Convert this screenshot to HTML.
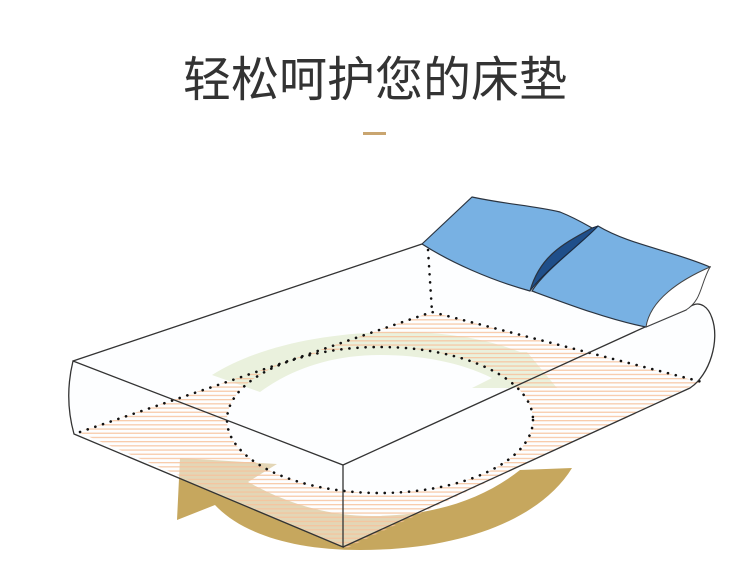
<!DOCTYPE html>
<html><head><meta charset="utf-8"><style>
html,body{margin:0;padding:0;background:#fff;}
.w{position:relative;width:750px;height:575px;overflow:hidden;background:#fff;}
h1{position:absolute;left:0;top:52px;width:750px;margin:0;text-align:center;font:48px "Liberation Sans","Noto Sans CJK SC",sans-serif;color:#333;line-height:58px;}
.bar{position:absolute;left:363px;top:132px;width:23px;height:3px;background:#c9a570;}
svg{position:absolute;left:0;top:0;}
</style></head><body><div class="w">
<h1>轻松呵护您的床垫</h1>
<div class="bar"></div>
<svg width="750" height="575" viewBox="0 0 750 575">
<defs>
<pattern id="hp" width="10" height="4.2" patternUnits="userSpaceOnUse">
<rect x="0" y="0" width="10" height="1.3" fill="#f7c29c"/>
</pattern>
<mask id="m">
<polygon points="78,432 432,312 700,382 347,548" fill="#fff"/>
<ellipse cx="380" cy="420" rx="153" ry="73" fill="#000"/>
</mask>
</defs>
<path d="M572,468 C540,520 460,550 360,550 C290,550 240,532 215,505 L177,520 L180,458 L277,464 L248,482 C290,505 330,516 372,516 C432,516 482,500 520,470 Z" fill="#c6a75e"/>
<path d="M212,375 C260,345 330,332 400,332 C450,332 490,340 520,352 L527,352 L557,388 L472,388 L492,378 C460,362 420,355 380,355 C330,355 290,370 260,392 Z" fill="#d4e2b4"/>
<path d="M73,361 L422,244 L686,310 L645,327 L343,465 Z" fill="#fcfdff" fill-opacity="0.55"/>
<path d="M73,361 Q64,398 74,434 L343,547 L343,465 Z" fill="#fcfdff" fill-opacity="0.55"/>
<path d="M343,465 L685,310 C700,302 708,306 712,318 C720,340 710,375 690,388 L343,547 Z" fill="#fcfdff" fill-opacity="0.55"/>
<rect x="70" y="300" width="650" height="260" fill="url(#hp)" mask="url(#m)" opacity="0.85"/>
<g fill="none" stroke="#111" stroke-width="2.6" stroke-linecap="round" stroke-dasharray="0.1 8">
<path d="M428,250 L432,312"/>
<path d="M80,432 L432,312 L702,382"/>
<ellipse cx="380" cy="420" rx="153" ry="73"/>
</g>
<g fill="none" stroke="#333" stroke-width="1.3">
<path d="M73,361 L422,244"/>
<path d="M645,327 L343,465 L73,361 Q64,398 74,434 L343,547 L343,465"/>
<path d="M343,547 L690,388 C710,375 720,340 712,318 C708,306 700,302 693,305 L645,327"/>
</g>
<path d="M598,226 C630,245 670,250 710,267 C695,280 680,300 686,310 L646,327 C610,320 570,305 532,291 C545,270 580,245 598,226 Z" fill="#78b1e3" stroke="#2b3440" stroke-width="1.2"/>
<path d="M592,228 C565,243 540,255 530,291 C545,270 580,245 598,226 Z" fill="#1f4f8a" stroke="#1a2a40" stroke-width="1"/>
<path d="M422,244 L472,197 C510,205 530,205 560,212 C575,218 585,224 592,228 C565,243 540,255 530,291 C490,280 450,262 422,244 Z" fill="#78b1e3" stroke="#2b3440" stroke-width="1.2"/>
<path d="M710,267 C700,285 702,300 686,310 L646,327 C650,300 680,280 710,267 Z" fill="#fff" stroke="#444" stroke-width="1"/>
</svg>
</div></body></html>
